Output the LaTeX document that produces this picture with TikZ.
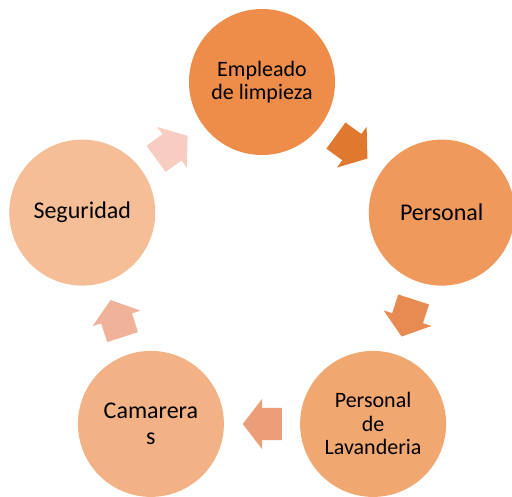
\documentclass[tikz,border=0pt]{standalone}
\usepackage{fontspec}
\setmainfont{Carlito}
\usetikzlibrary{shapes.arrows, calc}

\definecolor{empleadoC}{RGB}{238,140,74}
\definecolor{personalC}{RGB}{240,153,92}
\definecolor{lavanderiaC}{RGB}{241,167,112}
\definecolor{camarerasC}{RGB}{243,178,134}
\definecolor{seguridadC}{RGB}{245,190,150}
\definecolor{arrowA}{RGB}{224,121,48}
\definecolor{arrowB}{RGB}{232,139,82}
\definecolor{arrowC}{RGB}{236,158,120}
\definecolor{arrowD}{RGB}{241,178,154}
\definecolor{arrowE}{RGB}{246,205,192}

\begin{document}
\begin{tikzpicture}[x=1pt, y=1pt,
stage/.style= {circle, minimum size=146pt, inner sep=0pt, align=center, text=black, font=\fontsize{22}{23.5}\selectfont},
bigtext/.style= {font=\fontsize{24}{25.5}\selectfont},
turn/.style= {single arrow, single arrow head extend=9pt, single arrow tip angle=105, minimum height=39pt, inner xsep=0pt, inner ysep=16pt} ]
\useasboundingbox (-262,-225) rectangle (250,271);
\node (E) [stage, fill=empleadoC] at (90:189) {Empleado\\de limpieza};
\node (P) [stage, bigtext, fill=personalC] at (18:189) {Personal};
\node (L) [stage, fill=lavanderiaC] at (-54:189) {Personal\\de\\Lavanderia};
\node (C) [stage, bigtext, fill=camarerasC] at (-126:189) {Camarera\\s};
\node (S) [stage, bigtext, fill=seguridadC] at (162:189) {Seguridad};
\node (EP) [turn, fill=arrowA, rotate=-36] at ($(54:153)+(144:6.5)$) {};
\node (PL) [turn, fill=arrowB, rotate=-108] at ($(-18:153)+(72:6.5)$) {};
\node (LC) [turn, fill=arrowC, rotate=180] at ($(-90:153)+(0:6.5)$) {};
\node (CS) [turn, fill=arrowD, rotate=108] at ($(-162:153)+(-72:6.5)$) {};
\node (SE) [turn, fill=arrowE, rotate=36] at ($(126:153)+(216:6.5)$) {};
\end{tikzpicture}
\end{document}
